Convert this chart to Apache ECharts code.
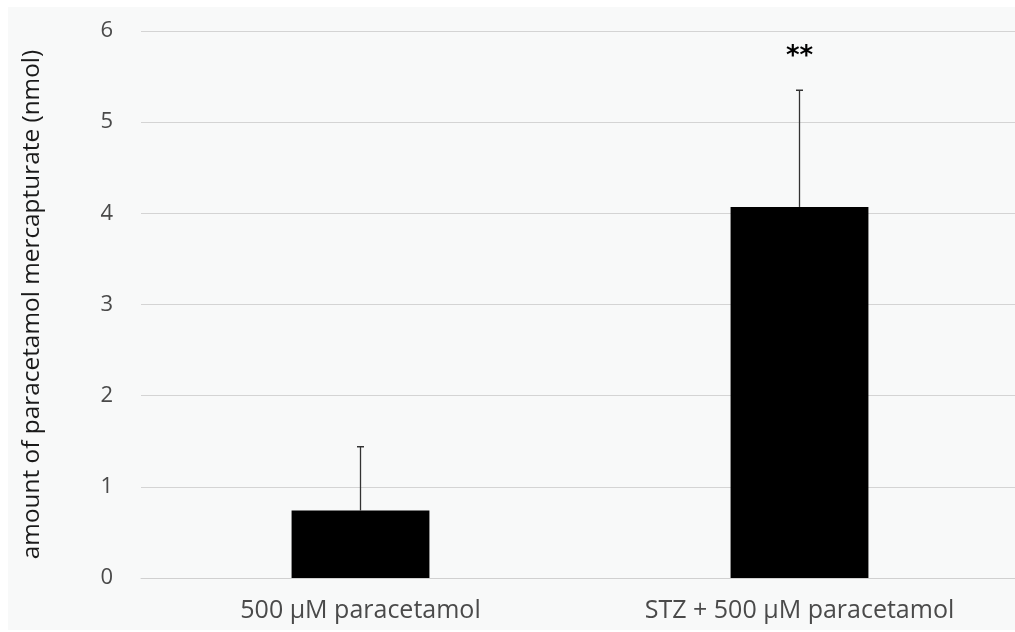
<!DOCTYPE html>
<html>
<head>
<meta charset="utf-8">
<script src="https://cdn.jsdelivr.net/npm/echarts@6/dist/echarts.min.js"></script>
<style>
html,body{margin:0;padding:0;background:#ffffff;overflow:hidden;}
#chart{position:absolute;left:8px;top:7px;width:1020px;height:623px;}
</style>
</head>
<body>
<div id="chart"></div>
<script>
const categories = ['500 µM paracetamol', 'STZ + 500 µM paracetamol'];
const means = [0.74, 4.07];
const errors = [0.70, 1.28];
const significance = ['', '**'];
const yTicks = [0, 1, 2, 3, 4, 5, 6];

const chart = echarts.init(document.getElementById('chart'), null, {renderer: 'canvas'});
const FONT = 'Open Sans';

chart.setOption({
  backgroundColor: '#f8f9f9',
  animation: false,
  grid: {left: 133, top: 24, width: 878, height: 547, containLabel: false},
  xAxis: {
    type: 'category',
    data: categories,
    axisLine: {show: true, lineStyle: {color: '#d0d0d0', width: 1}},
    axisTick: {show: false},
    axisLabel: {color: '#4a4a4a', fontFamily: FONT, fontSize: 25, margin: 20}
  },
  yAxis: {
    type: 'value',
    min: yTicks[0],
    max: yTicks[yTicks.length - 1],
    interval: 1,
    name: 'amount of paracetamol mercapturate (nmol)',
    nameLocation: 'middle',
    nameGap: 97,
    nameTextStyle: {color: '#1a1a1a', fontFamily: FONT, fontSize: 24.4},
    axisLine: {show: false},
    axisTick: {show: false},
    axisLabel: {color: '#4a4a4a', fontFamily: FONT, fontSize: 22, margin: 28},
    splitLine: {lineStyle: {color: '#d4d4d4', width: 1}}
  },
  series: [
    {
      type: 'bar',
      data: means,
      barWidth: '31.4%',
      itemStyle: {color: '#000000'},
      z: 2
    },
    {
      type: 'custom',
      z: 3,
      data: means.map((m, i) => [i, m, m + errors[i]]),
      renderItem: function (params, api) {
        const base = api.coord([api.value(0), api.value(1)]);
        const top = api.coord([api.value(0), api.value(2)]);
        const cap = 3.5;
        const children = [
          {type: 'line', shape: {x1: base[0], y1: base[1], x2: top[0], y2: top[1]}, style: {stroke: '#333333', lineWidth: 1.3}},
          {type: 'line', shape: {x1: top[0] - cap, y1: top[1], x2: top[0] + cap, y2: top[1]}, style: {stroke: '#333333', lineWidth: 1.5}}
        ];
        const sig = significance[params.dataIndex];
        if (sig) {
          children.push({type: 'text', style: {text: sig, x: top[0], y: top[1] - 33, align: 'center', verticalAlign: 'middle', fill: '#000000', font: 'bold 26px "DejaVu Sans"'}});
        }
        return {type: 'group', children: children};
      }
    }
  ]
});
</script>
</body>
</html>
